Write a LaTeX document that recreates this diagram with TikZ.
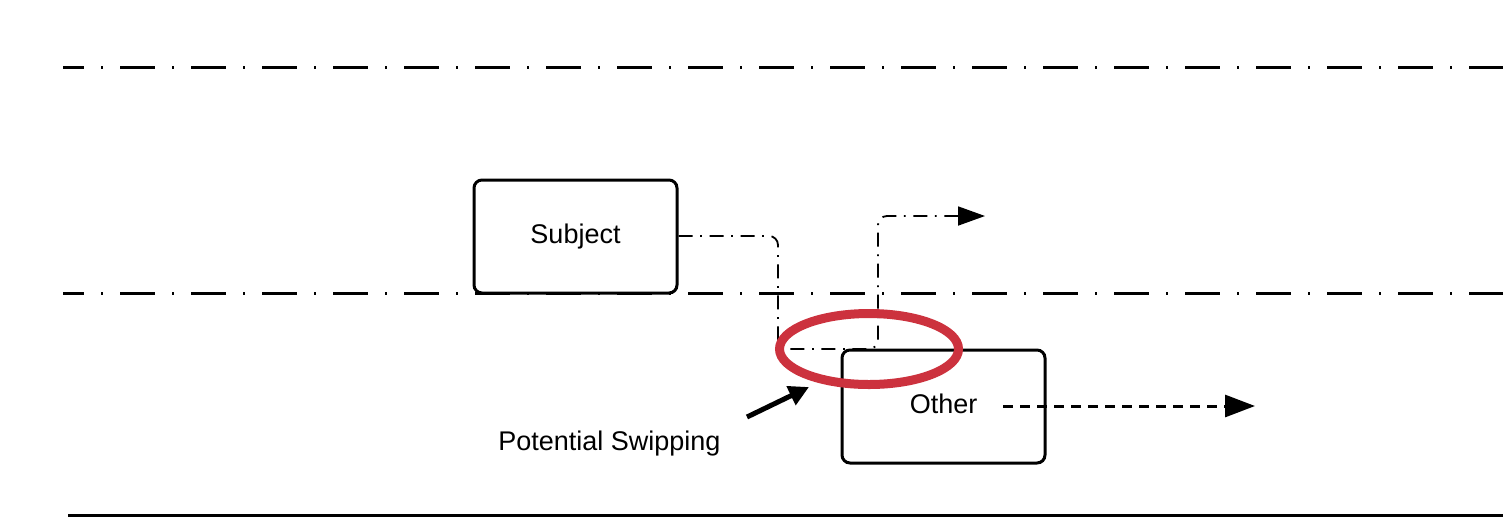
\documentclass[tikz,border=0pt]{standalone}
\usepackage{fontspec}
\setmainfont{Liberation Sans}
\usetikzlibrary{arrows.meta,shapes.geometric}
\definecolor{swapred}{RGB}{204,50,62}
\tikzset{
  lane/.style={line width=1.5pt, dash pattern=on 17.5pt off 8.5pt on 1pt off 8.5pt, dash phase=7pt},
  edge/.style={line width=1.5pt},
  car/.style={draw, line width=1.5pt, rounded corners=4pt, minimum width=101.5pt, minimum height=56.5pt, inner sep=0pt, font=\fontsize{13.5pt}{16pt}\selectfont},
  path/.style={line width=0.9pt, dash pattern=on 7pt off 3.8pt on 0.9pt off 3.8pt, rounded corners=4.5pt, -{Triangle[length=13.5pt,width=9.5pt]}},
  motion/.style={line width=1.5pt, dash pattern=on 5pt off 3.5pt, -{Triangle[length=15pt,width=11pt]}},
  pointer/.style={line width=2.5pt, -{Triangle[length=10pt,width=10pt]}},
  label/.style={font=\fontsize{13.5pt}{16pt}\selectfont, inner sep=0pt},
}
\begin{document}
\begin{tikzpicture}[x=0.5pt,y=-0.5pt]
\useasboundingbox (0,0) rectangle (1503,521);
% lane lines
\coordinate (l1a) at (63,67);  \coordinate (l1b) at (1503,67);
\coordinate (l2a) at (63,293); \coordinate (l2b) at (1503,293);
\coordinate (l3a) at (68,515); \coordinate (l3b) at (1503,515);
\draw[lane] (l1a) -- (l1b);
\draw[lane] (l2a) -- (l2b);
\draw[edge] (l3a) -- (l3b);
% cars
\node[car, fill=white] (subject) at (575.5,236.5) {\raisebox{3pt}{Subject}};
\node[car, fill=white] (other) at (943.5,406.5) {\raisebox{3pt}{Other}};
% subject path
\coordinate (pend) at (985,216);
\draw[path] (subject.east |- 0,236) -- (778,236) -- (778,349) -- (878,349) -- (878,216) -- (pend);
% other motion
\coordinate (ms) at (1003,406);
\coordinate (me) at (1255,406);
\draw[motion] (ms) -- (me);
% swap ellipse
\node[draw=swapred, line width=4.5pt, ellipse, minimum width=89.5pt, minimum height=35.5pt, inner sep=0pt] (swap) at (869,349) {};
% label and pointer
\node[label] (lbl) at (609.5,444) {Potential Swipping};
\coordinate (ptail) at (747,417);
\coordinate (ptip) at (809,387);
\draw[pointer] (ptail) -- (ptip);
\end{tikzpicture}
\end{document}
